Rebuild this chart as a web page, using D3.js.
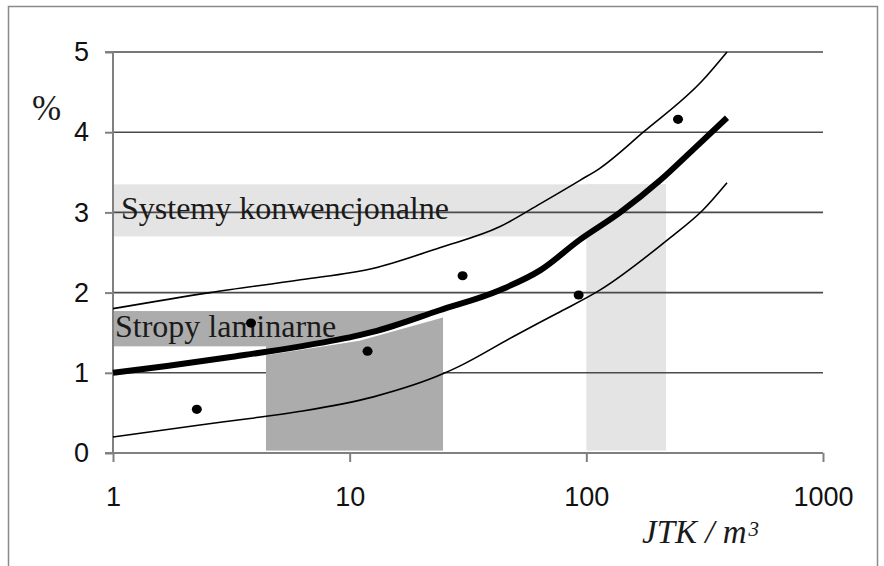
<!DOCTYPE html>
<html><head><meta charset="utf-8">
<script src="https://cdn.jsdelivr.net/npm/d3@7/dist/d3.min.js"></script>
<style>html,body{margin:0;padding:0;background:#fff;}svg{display:block;}</style>
</head><body>
<svg id="c" width="884" height="566"></svg>
<script>
// ---- data ----
const xTicks = [1, 10, 100, 1000];
const yTicks = [0, 1, 2, 3, 4, 5];
const yGrid = [1, 2, 3, 4, 5];

const meanX  = [1, 1.69, 3.2, 6.2, 11, 12.5, 24, 43, 64, 94, 139, 205, 282, 393];
const meanY  = [1.0, 1.085, 1.2, 1.33, 1.47, 1.51, 1.78, 2.03, 2.28, 2.66, 3.0, 3.4, 3.78, 4.18];
const upperX = [1, 2.57, 6.2, 12.5, 24, 43, 64, 94, 114, 174, 311, 393];
const upperY = [1.8, 2.0, 2.16, 2.30, 2.56, 2.82, 3.11, 3.40, 3.55, 4.0, 4.65, 5.0];
const lowerX = [1, 2.33, 3.79, 6.2, 12.6, 24.9, 29, 49, 75, 114, 225, 311, 393];
const lowerY = [0.2, 0.35, 0.43, 0.52, 0.70, 0.99, 1.08, 1.45, 1.74, 2.03, 2.68, 3.03, 3.37];

const dotX = [2.26, 3.83, 11.9, 30, 92.8, 244];
const dotY = [0.545, 1.62, 1.27, 2.21, 1.97, 4.16];

// shaded regions: [x0, x1, y0, y1]
const convBand  = [1, 217, 2.70, 3.35];
const convBlock = [100, 217, 0.03, 3.35];
const lamBand   = [1, 24.8, 1.33, 1.77];
const lamBlock  = [4.43, 24.8, 0.03, 1.77];
const lamEdgeX  = [4.43, 11, 24.8];
const lamEdgeY  = [1.22, 1.40, 1.69];

const convLabel = "Systemy konwencjonalne";
const lamLabel  = "Stropy laminarne";
const yTitle = "%";
const xTitleMain = "JTK / m";
const xTitleSup = "3";

// ---- drawing ----
const svg = d3.select("#c");
const x = d3.scaleLog().domain([1, 1000]).range([113, 823]);
const y = d3.scaleLinear().domain([0, 5]).range([453, 52]);

svg.append("rect").attr("width", 884).attr("height", 566).attr("fill", "#fff");
// frame
svg.append("path").attr("d", "M8.5,566V6.5H877.5V566").attr("fill", "none")
  .attr("stroke", "#8a8a8a").attr("stroke-width", 1.5);

function rect(r, fill) {
  svg.append("rect")
    .attr("x", x(r[0])).attr("width", x(r[1]) - x(r[0]))
    .attr("y", y(r[3])).attr("height", y(r[2]) - y(r[3]))
    .attr("fill", fill);
}
const light = "#e4e4e4", dark = "#acacac";
rect(convBand, light);
rect(convBlock, light);

// gridlines
svg.append("g").selectAll("line").data(yGrid).join("line")
  .attr("x1", x(1)).attr("x2", x(1000))
  .attr("y1", d => y(d)).attr("y2", d => y(d))
  .attr("stroke", "#4a4a4a").attr("stroke-width", 1.6);

rect(lamBand, dark);
rect(lamBlock, dark);

// white gap between mean line and laminar block top
function interp(xs, ys, xv) {
  const lx = xs.map(Math.log10), t = Math.log10(xv);
  for (let i = 1; i < lx.length; i++) {
    if (t <= lx[i]) { const f = (t - lx[i-1]) / (lx[i] - lx[i-1]); return ys[i-1] + f * (ys[i] - ys[i-1]); }
  }
  return ys[ys.length - 1];
}
const gx0 = lamEdgeX[0], gx1 = lamEdgeX[lamEdgeX.length - 1];
const gapTop = [[gx0, interp(meanX, meanY, gx0)]];
meanX.forEach((v, i) => { if (v > gx0 && v < gx1) gapTop.push([v, meanY[i]]); });
gapTop.push([gx1, Math.min(lamBand[3], interp(meanX, meanY, gx1))]);
const gapBottom = lamEdgeX.map((v, i) => [v, lamEdgeY[i]]).reverse();
svg.append("path")
  .attr("d", d3.line().x(d => x(d[0])).y(d => y(d[1]))(gapTop.concat(gapBottom)) + "Z")
  .attr("fill", "#fff");

// axes
const axisColor = "#808080";
const gy = svg.append("g").attr("transform", `translate(${x(1)},0)`)
  .call(d3.axisLeft(y).tickValues(yTicks).tickSize(8).tickPadding(16).tickFormat(d3.format("d")));
const gxx = svg.append("g").attr("transform", `translate(0,${y(0)})`)
  .call(d3.axisBottom(x).tickValues(xTicks).tickSize(9).tickPadding(25).tickFormat(d3.format("d")));
[gy, gxx].forEach(g => {
  g.select(".domain").attr("stroke", axisColor).attr("stroke-width", 2);
  g.selectAll(".tick line").attr("stroke", axisColor).attr("stroke-width", 2);
  g.selectAll(".tick text").attr("fill", "#111").attr("font-family", "'Liberation Sans', Arial, sans-serif").attr("font-size", 27);
});
gy.select(".domain").attr("d", `M-8,${y(5)}H0V${y(0)}H-8`);
gxx.select(".domain").attr("d", `M${x(1)-8},0H${x(1000)}`);

// curves
const line = d3.line().x(d => x(d[0])).y(d => y(d[1])).curve(d3.curveMonotoneX);
const zip = (a, b) => a.map((v, i) => [v, b[i]]);
svg.append("path").attr("d", line(zip(upperX, upperY))).attr("fill", "none").attr("stroke", "#000").attr("stroke-width", 1.6);
svg.append("path").attr("d", line(zip(lowerX, lowerY))).attr("fill", "none").attr("stroke", "#000").attr("stroke-width", 1.6);

// labels in regions
const serif = "'Liberation Serif', 'Times New Roman', serif";
svg.append("text").attr("x", 121).attr("y", 219).attr("font-family", serif).attr("font-size", 32)
  .attr("fill", "#1a1a1a").text(convLabel);
svg.append("text").attr("x", 115).attr("y", 337).attr("font-family", serif).attr("font-size", 32)
  .attr("fill", "#1a1a1a").text(lamLabel);

svg.append("path").attr("d", line(zip(meanX, meanY))).attr("fill", "none").attr("stroke", "#000")
  .attr("stroke-width", 6).attr("stroke-linejoin", "round");

// dots
svg.append("g").selectAll("ellipse").data(zip(dotX, dotY)).join("ellipse")
  .attr("cx", d => x(d[0])).attr("cy", d => y(d[1])).attr("rx", 5).attr("ry", 4.6).attr("fill", "#000");

// titles
svg.append("text").attr("x", 32).attr("y", 120).attr("font-family", serif).attr("font-size", 35)
  .attr("fill", "#1a1a1a").text(yTitle);
const xt = svg.append("text").attr("x", 642).attr("y", 543).attr("font-family", serif)
  .attr("font-style", "italic").attr("font-size", 33).attr("fill", "#1a1a1a");
xt.append("tspan").text(xTitleMain);
xt.append("tspan").attr("dy", -7).attr("font-size", 21).attr("dx", 2).text(xTitleSup);
</script>
</body></html>
